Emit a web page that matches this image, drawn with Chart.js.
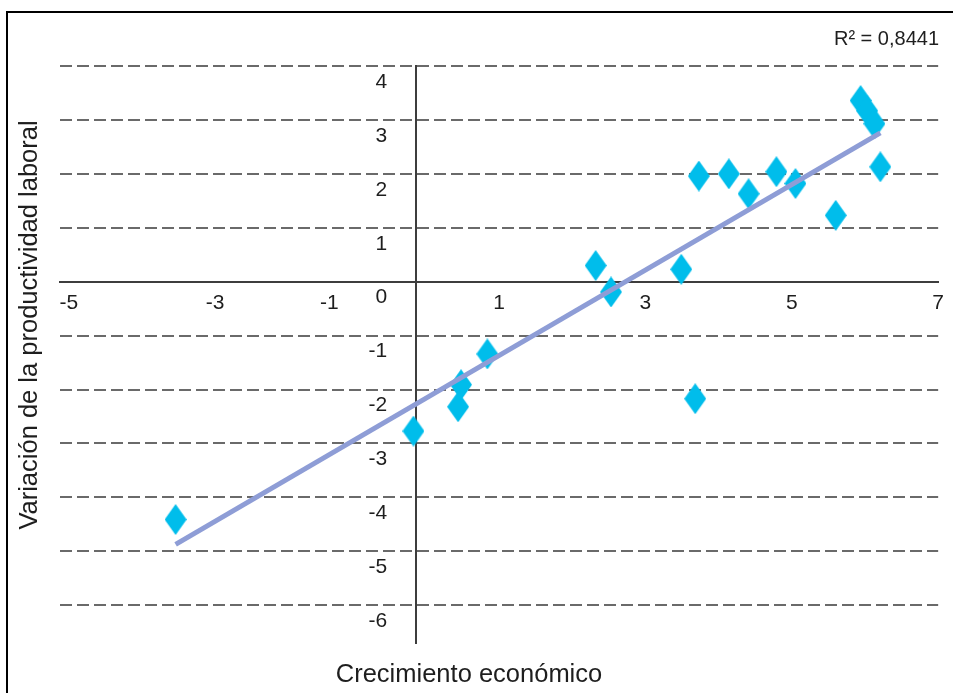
<!DOCTYPE html>
<html>
<head>
<meta charset="utf-8">
<script src="https://cdn.jsdelivr.net/npm/chart.js@4"></script>
<style>
  html, body { margin: 0; padding: 0; background: #fff; overflow: hidden; }
  #wrap { position: relative; width: 953px; height: 693px; }
  #frame { position: absolute; left: 6px; top: 11px; width: 1200px; height: 900px;
           border-left: 2px solid #000; border-top: 2px solid #000; z-index: 0; }
  canvas { position: absolute; left: 0; top: 0; z-index: 1; }
</style>
</head>
<body>
<div id="wrap">
  <div id="frame"></div>
  <canvas id="chart" width="953" height="693"></canvas>
</div>
<script>
// Economic growth (x) vs. change in labour productivity (y), one point per observation
const growth       = [-3.42, -0.17, 0.44, 0.48, 0.84, 2.32, 2.53, 3.49, 3.68, 3.73, 4.14, 4.41, 4.79, 5.05, 5.60, 5.94, 6.03, 6.13, 6.21];
const productivity = [-4.41, -2.77, -2.32, -1.91, -1.34, 0.30, -0.19, 0.23, -2.17, 1.96, 2.00, 1.63, 2.04, 1.82, 1.23, 3.36, 3.17, 2.93, 2.13];

// Linear trend line end points
const trendX = [-3.42, 6.21];
const trendY = [-4.87, 2.76];

const rSquaredLabel = 'R² = 0,8441';
const xTitle = 'Crecimiento económico';
const yTitle = 'Variación de la productividad laboral';

// Tall diamond marker
function diamondMarker(w, h, color) {
  const c = document.createElement('canvas');
  c.width = w; c.height = h;
  const g = c.getContext('2d');
  g.fillStyle = color;
  g.beginPath();
  g.moveTo(w / 2, 0);
  g.lineTo(w, h / 2);
  g.lineTo(w / 2, h);
  g.lineTo(0, h / 2);
  g.closePath();
  g.fill();
  return c;
}
const marker = diamondMarker(22, 31, '#00BDEB');

const FONT = "'Liberation Sans', Arial, sans-serif";
const textColor = '#1e1e1e';

// Spacing tweaks for tick text drawn beside the crossing axes
const xLabelText = (v) => {
  if (v === -1) return '-1\u2007\u2007\u2007\u2007';   // keep clear of the "0" label
  if (v < 0) return '   ' + v;
  return String(v);
};
const yLabelText = (v) => String(v) + '     ';          // gap between labels and axis

// Axis titles and the fit statistic
const annotations = {
  id: 'annotations',
  afterDraw(chart) {
    const ctx = chart.ctx;
    ctx.save();
    ctx.fillStyle = textColor;
    ctx.textBaseline = 'middle';

    ctx.font = '25.5px ' + FONT;
    ctx.textAlign = 'center';
    ctx.fillText(xTitle, 469, 675);

    ctx.save();
    ctx.translate(30, 325);
    ctx.rotate(-Math.PI / 2);
    ctx.fillText(yTitle, 0, 0);
    ctx.restore();

    ctx.font = '20px ' + FONT;
    ctx.textAlign = 'right';
    ctx.fillText(rSquaredLabel, 939, 39);
    ctx.restore();
  }
};

new Chart(document.getElementById('chart'), {
  type: 'scatter',
  data: {
    datasets: [
      {
        type: 'line',
        data: trendX.map((x, i) => ({ x, y: trendY[i] })),
        borderColor: '#8E9DD6',
        borderWidth: 5,
        pointRadius: 0,
        fill: false
      },
      {
        data: growth.map((x, i) => ({ x, y: productivity[i] })),
        pointStyle: marker,
        pointRadius: 12,
        pointHoverRadius: 12
      }
    ]
  },
  options: {
    responsive: false,
    devicePixelRatio: 1,
    animation: false,
    layout: { padding: { left: 60, right: 13, top: 66, bottom: 50 } },
    plugins: { legend: { display: false }, tooltip: { enabled: false } },
    scales: {
      x: {
        type: 'linear',
        position: { y: 0 },
        min: -5,
        max: 7,
        ticks: {
          stepSize: 2,
          padding: 9,
          color: textColor,
          font: { family: FONT, size: 21 },
          callback: xLabelText
        },
        grid: { color: 'rgba(0,0,0,0)', drawTicks: false },
        border: { display: true, color: '#3d3d3d', width: 2 }
      },
      y: {
        type: 'linear',
        position: { x: -0.13 },
        min: -6.7,
        max: 4,
        ticks: {
          stepSize: 1,
          includeBounds: false,
          labelOffset: 16,
          color: textColor,
          font: { family: FONT, size: 21 },
          callback: yLabelText
        },
        grid: {
          drawTicks: false,
          lineWidth: 2,
          color: (c) => (c.tick && c.tick.value === 0 ? 'rgba(0,0,0,0)' : '#6a6a6a')
        },
        // dash pattern of the horizontal grid lines; the axis line itself stays solid
        border: { display: true, color: '#3d3d3d', width: 2, dash: [12, 5] }
      }
    }
  },
  plugins: [annotations]
});
</script>
</body>
</html>
